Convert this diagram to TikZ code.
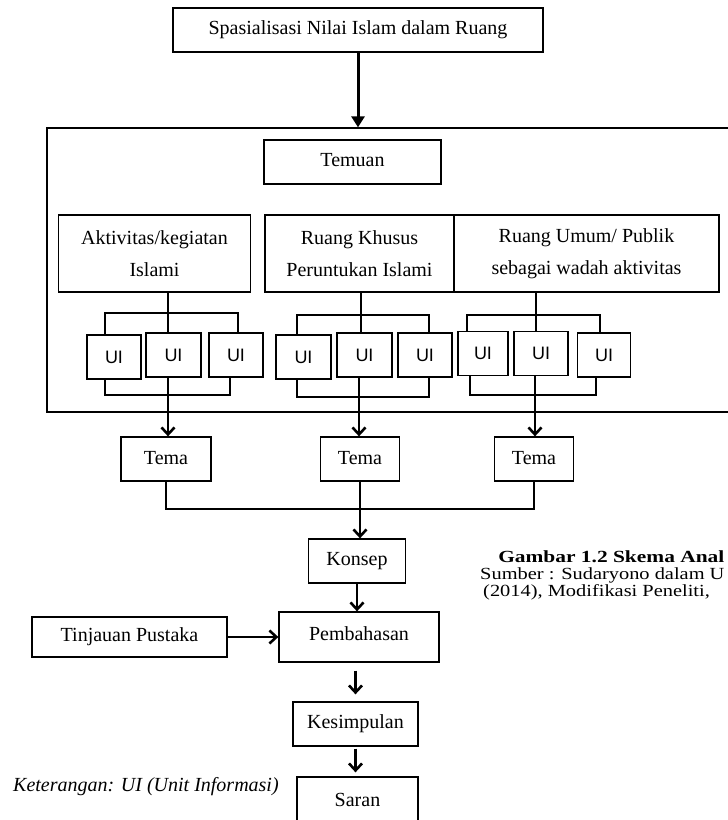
\documentclass[tikz,border=0pt]{standalone}
\usepackage{fontspec}
\setmainfont{Liberation Serif}
\newfontfamily\uifont{Liberation Sans}
\usetikzlibrary{arrows.meta}

\begin{document}
\begin{tikzpicture}[x=1pt, y=-1pt,
    box/.style={draw, line width=1.3pt, inner sep=0pt, align=center,
                font=\fontsize{20}{32}\selectfont},
    uibox/.style={draw, line width=1.3pt, inner sep=0pt, minimum height=44pt,
                  font=\uifont\fontsize{18}{20}\selectfont},
    link/.style={line width=1.3pt},
    heavy/.style={line width=2.6pt},
    flow/.style={line width=2.6pt, -{Straight Barb[length=7pt, width=13pt]}},
    capline/.style={anchor=west, inner sep=0pt, xscale=1.2,
                    font=\fontsize{17}{17}\selectfont}]

\useasboundingbox (0,0) rectangle (728,820);

% ── top: research focus ───────────────────────────────────────────
\node[box, minimum width=370pt, minimum height=44pt] (spasial) at (358,30)
    {Spasialisasi Nilai Islam dalam Ruang};

% ── frame with the findings ───────────────────────────────────────
\node[draw, line width=1.3pt, minimum width=698pt, minimum height=284pt] (frame) at (396,270) {};
\draw[line width=3pt, -{Triangle[length=11pt, width=13pt]}] (spasial.south) -- (spasial.south |- frame.north);

\node[box, minimum width=177pt, minimum height=44pt] (temuan) at (352.5,162) {\raisebox{5pt}{Temuan}};

\node[box, minimum width=192pt, minimum height=77pt] (aktiv) at (154.5,253.5)
    {Aktivitas/kegiatan\\Islami};
\node[box, minimum width=189pt, minimum height=77pt] (khusus) at (359.5,253.5)
    {Ruang Khusus\\Peruntukan Islami};
\node[box, minimum width=265pt, minimum height=77pt] (umum) at (586.5,253.5)
    {Ruang Umum/ Publik\\sebagai wadah aktivitas};

% information units
\node[uibox, minimum width=54pt] (u11) at (114,357) {UI};
\node[uibox, minimum width=55pt] (u12) at (173.5,355) {UI};
\node[uibox, minimum width=54pt] (u13) at (236,355) {UI};
\node[uibox, minimum width=55pt] (u21) at (303.5,357) {UI};
\node[uibox, minimum width=55pt] (u22) at (364.5,355) {UI};
\node[uibox, minimum width=54pt] (u23) at (425,355) {UI};
\node[uibox, minimum width=50pt] (u31) at (483,353.5) {UI};
\node[uibox, minimum width=54pt] (u32) at (541,353.5) {UI};
\node[uibox, minimum width=53pt] (u33) at (604,355) {UI};

% bracket junctions
\coordinate (g1) at (168,313);
\coordinate (h1) at (168,395);
\coordinate (g2) at (361,315);
\coordinate (h2) at (359,397);
\coordinate (g3) at (536,315);
\coordinate (h3) at (535,395);

% ── themes ────────────────────────────────────────────────────────
\node[box, minimum width=90pt, minimum height=44pt] (tema1) at (166,459) {\raisebox{3pt}{Tema}};
\node[box, minimum width=79pt, minimum height=44pt] (tema2) at (360,459) {\raisebox{3pt}{Tema}};
\node[box, minimum width=79pt, minimum height=44pt] (tema3) at (534,459) {\raisebox{3pt}{Tema}};

% group 1
\draw[link] (aktiv.south -| g1) -- (g1 |- u12.north);
\draw[link] ([xshift=-9pt]u11.north) |- (g1) -| ([xshift=2pt]u13.north);
\draw[link] ([xshift=-9pt]u11.south) |- (h1) -| ([xshift=-6pt]u13.south);
\draw[link] (h1 |- u12.south) -- (h1);
\draw[flow] (h1) -- (h1 |- tema1.north);

% group 2
\draw[link] (khusus.south -| g2) -- (g2 |- u22.north);
\draw[link] ([xshift=-6.5pt]u21.north) |- (g2) -| ([xshift=4pt]u23.north);
\draw[link] ([xshift=-6.5pt]u21.south) |- (h2) -| ([xshift=4pt]u23.south);
\draw[link] (h2 |- u22.south) -- (h2);
\draw[flow] (h2) -- (h2 |- tema2.north);

% group 3
\draw[link] (umum.south -| g3) -- (g3 |- u32.north);
\draw[link] ([xshift=-16pt]u31.north) |- (g3) -| ([xshift=-4pt]u33.north);
\draw[link] ([xshift=-13pt]u31.south) |- (h3) -| ([xshift=-8pt]u33.south);
\draw[link] (h3 |- u32.south) -- (h3);
\draw[flow] (h3) -- (h3 |- tema3.north);

% ── concept and discussion ────────────────────────────────────────
\node[box, minimum width=97pt, minimum height=44pt] (konsep) at (357,561) {\raisebox{3pt}{Konsep}};
\node[box, minimum width=160pt, minimum height=50pt] (pemb) at (359,637) {\raisebox{7pt}{Pembahasan}};
\node[box, minimum width=195pt, minimum height=40pt] (tinjau) at (129.5,637) {Tinjauan Pustaka};
\node[box, minimum width=125pt, minimum height=44pt] (kesim) at (355.5,724) {\raisebox{5pt}{Kesimpulan}};
\node[box, minimum width=121pt, minimum height=53pt] (saran) at (357.5,803.5) {\raisebox{8pt}{Saran}};

\coordinate (tj) at (360,509);
\draw[heavy] (tema1.south) |- (tj) -| (tema3.south);
\draw[flow] (tema2.south) -- (tema2.south |- konsep.north);
\draw[flow] (konsep.south) -- (konsep.south |- pemb.north);
\draw[flow] (tinjau.east) -- (tinjau.east -| pemb.west);
\draw[flow, shorten <=8pt, shorten >=7pt] (kesim.north |- pemb.south) -- (kesim.north);
\draw[flow, shorten <=2pt, shorten >=4pt] (kesim.south) -- (kesim.south |- saran.north);

% notes
\node[anchor=west, inner sep=0pt, font=\itshape\fontsize{20}{24}\selectfont] (ket) at (13,787)
    {Keterangan: UI (Unit Informasi)};

\node[capline, xscale=1.05, font=\bfseries\fontsize{17}{17}\selectfont] (capa) at (498,557) {Gambar 1.2 Skema Anal};
\node[capline] (capb) at (480,575) {Sumber : Sudaryono dalam U};
\node[capline] (capc) at (483,592) {(2014), Modifikasi Peneliti,};

\end{tikzpicture}
\end{document}
